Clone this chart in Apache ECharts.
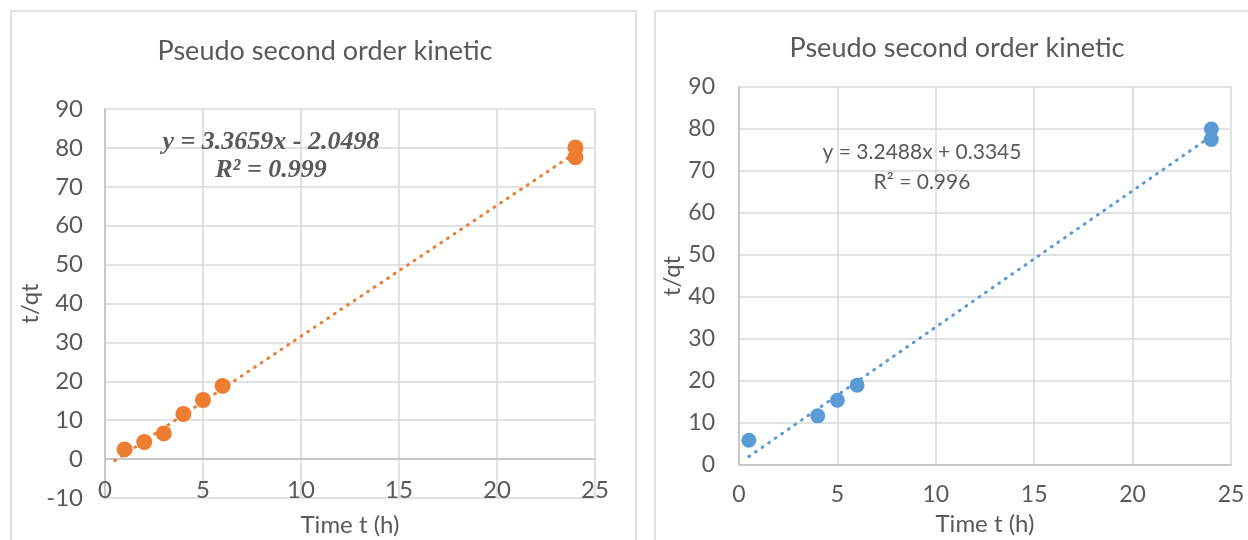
<!DOCTYPE html>
<html>
<head>
<meta charset="utf-8">
<script src="https://cdn.jsdelivr.net/npm/echarts@6/dist/echarts.min.js"></script>
<style>
  html, body { margin: 0; padding: 0; background: #ffffff; }
  #chart { width: 1248px; height: 540px; }
</style>
</head>
<body>
<div id="chart"></div>
<script>
// ---- Data ----
const chartTitle = "Pseudo second order kinetic";
const xAxisName = "Time t (h)";
const yAxisName = "t/qt";

// Left panel (orange)
const leftTime = [1, 2, 3, 4, 5, 6, 24, 24];
const leftTq = [2.5, 4.4, 6.6, 11.6, 15.2, 18.8, 77.6, 80.1];
const leftTrendX = [0.5, 24];
const leftTrendY = [-0.4, 78.7];
const leftEquation = "y = 3.3659x - 2.0498";
const leftR2 = "R² = 0.999";

// Right panel (blue)
const rightTime = [0.5, 4, 5, 6, 24, 24];
const rightTq = [5.9, 11.7, 15.4, 19.0, 77.5, 80.0];
const rightTrendX = [0.5, 24];
const rightTrendY = [2.0, 78.3];
const rightEquation = "y = 3.2488x + 0.3345";
const rightR2 = "R² = 0.996";

// Axis ticks
const xTicks = [0, 5, 10, 15, 20, 25];
const leftYTicks = [-10, 0, 10, 20, 30, 40, 50, 60, 70, 80, 90];
const rightYTicks = [0, 10, 20, 30, 40, 50, 60, 70, 80, 90];

// ---- Helpers ----
const zip = (xs, ys) => xs.map((x, i) => [x, ys[i]]);
const TEXT = '#595959';
const GRID = '#D9D9D9';
const AXIS = '#BFBFBF';
const FONT = 'Lato, "Open Sans", sans-serif';

function xAxisCfg(gridIndex, fontSize, margin, nameGap, offset) {
  return {
    type: 'value', gridIndex: gridIndex,
    min: xTicks[0], max: xTicks[xTicks.length - 1], interval: xTicks[1] - xTicks[0],
    offset: offset,
    name: xAxisName, nameLocation: 'middle', nameGap: nameGap,
    nameTextStyle: { color: TEXT, fontSize: 24, fontFamily: FONT },
    axisLine: { show: true, onZero: false, lineStyle: { color: AXIS, width: 1.5 } },
    axisTick: { show: false },
    axisLabel: { color: TEXT, fontSize: fontSize, fontFamily: FONT, margin: margin },
    splitLine: { show: true, lineStyle: { color: GRID, width: 1.5 } }
  };
}
function yAxisCfg(gridIndex, ticks, fontSize, margin, nameGap) {
  return {
    type: 'value', gridIndex: gridIndex,
    min: ticks[0], max: ticks[ticks.length - 1], interval: ticks[1] - ticks[0],
    name: yAxisName, nameLocation: 'middle', nameGap: nameGap, nameRotate: 90,
    nameTextStyle: { color: TEXT, fontSize: 24, fontFamily: FONT },
    axisLine: { show: true, lineStyle: { color: AXIS, width: 1.5 } },
    axisTick: { show: false },
    axisLabel: { color: TEXT, fontSize: fontSize, fontFamily: FONT, margin: margin },
    splitLine: { show: true, lineStyle: { color: GRID, width: 1.5 } }
  };
}

const chart = echarts.init(document.getElementById('chart'), null, { renderer: 'canvas' });
const option = {
  backgroundColor: '#ffffff',
  animation: false,
  title: [
    { text: chartTitle, left: 325, top: 38, textAlign: 'center', padding: 0,
      textStyle: { color: TEXT, fontSize: 27, fontWeight: 'normal', fontFamily: FONT } },
    { text: chartTitle, left: 957, top: 35, textAlign: 'center', padding: 0,
      textStyle: { color: TEXT, fontSize: 27, fontWeight: 'normal', fontFamily: FONT } }
  ],
  grid: [
    { left: 105, top: 109, width: 490, height: 389, outerBoundsMode: 'none', containLabel: false },
    { left: 739, top: 87, width: 492, height: 378, outerBoundsMode: 'none', containLabel: false }
  ],
  xAxis: [
    xAxisCfg(0, 24, 19, 54, -38.9),
    xAxisCfg(1, 23, 18, 47, 0)
  ],
  yAxis: [
    yAxisCfg(0, leftYTicks, 24, 22, 62),
    yAxisCfg(1, rightYTicks, 23, 24, 52)
  ],
  graphic: [
    { type: 'rect', z: -10, shape: { x: 11, y: 11, width: 625, height: 540 },
      style: { fill: '#ffffff', stroke: GRID, lineWidth: 1.5 } },
    { type: 'rect', z: -10, shape: { x: 655, y: 11, width: 600, height: 540 },
      style: { fill: '#ffffff', stroke: GRID, lineWidth: 1.5 } },
    { type: 'text', x: 271, y: 142, z: 20,
      style: { text: leftEquation, fill: TEXT, font: 'italic bold 26px "Liberation Serif", serif',
               textAlign: 'center', textVerticalAlign: 'middle' } },
    { type: 'text', x: 271, y: 170, z: 20,
      style: { text: leftR2, fill: TEXT, font: 'italic bold 26px "Liberation Serif", serif',
               textAlign: 'center', textVerticalAlign: 'middle' } },
    { type: 'text', x: 922, y: 152, z: 20,
      style: { text: rightEquation, fill: TEXT, font: '21px Lato, "Open Sans", sans-serif',
               textAlign: 'center', textVerticalAlign: 'middle' } },
    { type: 'text', x: 922, y: 182, z: 20,
      style: { text: rightR2, fill: TEXT, font: '21px Lato, "Open Sans", sans-serif',
               textAlign: 'center', textVerticalAlign: 'middle' } }
  ],
  series: [
    { type: 'line', xAxisIndex: 0, yAxisIndex: 0, data: zip(leftTrendX, leftTrendY),
      showSymbol: false, symbol: 'none', z: 3, silent: true,
      lineStyle: { color: '#ED7D31', width: 3, type: [1, 7], cap: 'round' } },
    { type: 'scatter', xAxisIndex: 0, yAxisIndex: 0, data: zip(leftTime, leftTq),
      symbol: 'circle', symbolSize: 16, z: 4,
      itemStyle: { color: '#ED7D31', opacity: 1 } },
    { type: 'line', xAxisIndex: 1, yAxisIndex: 1, data: zip(rightTrendX, rightTrendY),
      showSymbol: false, symbol: 'none', z: 3, silent: true,
      lineStyle: { color: '#5B9BD5', width: 3, type: [1, 7], cap: 'round' } },
    { type: 'scatter', xAxisIndex: 1, yAxisIndex: 1, data: zip(rightTime, rightTq),
      symbol: 'circle', symbolSize: 15, z: 4,
      itemStyle: { color: '#5B9BD5', opacity: 1 } }
  ]
};
chart.setOption(option);
</script>
</body>
</html>
